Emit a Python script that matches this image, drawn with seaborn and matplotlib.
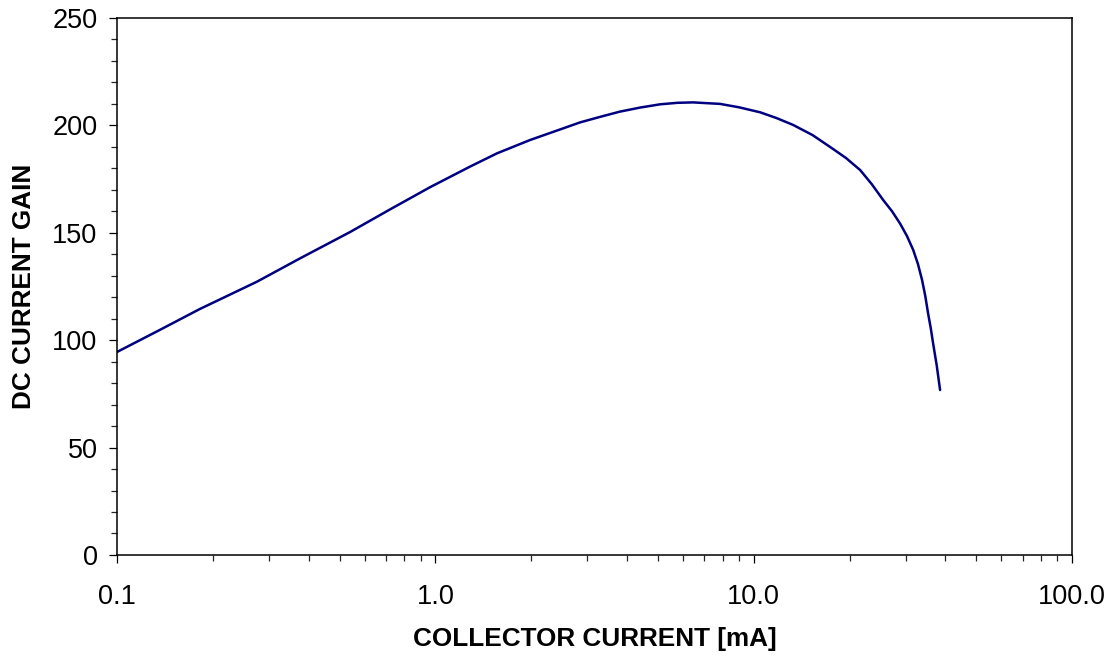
import matplotlib
matplotlib.use('Agg')
import matplotlib.pyplot as plt
import seaborn as sns
import pandas as pd
from matplotlib.ticker import FixedLocator, NullFormatter, LogLocator

# values
collector_ma = [0.1, 0.136, 0.182, 0.275, 0.376, 0.539, 0.721, 0.962, 1.285, 1.563,
                1.985, 2.52, 2.85, 3.30, 3.80, 4.40, 5.08, 5.75, 6.45, 7.84, 9.0,
                10.47, 11.8, 13.3, 15.3, 17.4, 19.5, 21.6, 23.5, 25.5, 27.2, 28.8,
                30.3, 31.7, 32.8, 33.8, 34.6, 35.3, 36.0, 36.6, 37.6, 38.5]
dc_gain = [94.5, 104.7, 114.5, 127.2, 138.1, 150.3, 160.9, 171.2, 180.8, 187.0,
           193.2, 198.6, 201.4, 204.0, 206.4, 208.3, 209.8, 210.5, 210.7, 210.0, 208.4,
           206.1, 203.4, 200.2, 195.5, 189.9, 184.8, 179.2, 172.6, 165.3, 160.0, 154.4,
           148.5, 142.0, 135.5, 128.0, 120.5, 112.5, 105.5, 98.6, 88.0, 76.8]
xtick_vals = [0.1, 1, 10, 100]
xtick_labels = ['0.1', '1.0', '10.0', '100.0']

df = pd.DataFrame({'ic': collector_ma, 'hfe': dc_gain})

sns.set_style('ticks')
plt.rcParams['font.family'] = ['Liberation Sans', 'DejaVu Sans']

fig = plt.figure(figsize=(11.1, 6.56), dpi=100)
ax = fig.add_axes([0.1054, 0.154, 0.8604, 0.8186])

sns.lineplot(data=df, x='ic', y='hfe', color='#000080', linewidth=1.8, ax=ax)

ax.set_xscale('log')
ax.set_xlim(0.1, 100)
ax.set_ylim(0, 250)
ax.set_xticks(xtick_vals)
ax.set_xticklabels(xtick_labels)
ax.xaxis.set_minor_locator(LogLocator(base=10, subs=range(2, 10)))
ax.xaxis.set_minor_formatter(NullFormatter())
ax.set_yticks(range(0, 251, 50))
ax.yaxis.set_minor_locator(FixedLocator(range(0, 251, 10)))

ax.tick_params(which='major', direction='out', length=6, width=0.9, labelsize=19.5,
               colors='black', labelcolor='black')
ax.tick_params(which='minor', direction='out', length=4.3, width=0.9)
ax.tick_params(axis='x', which='major', pad=15)
ax.tick_params(axis='y', which='major', pad=8)
for sp in ax.spines.values():
    sp.set_visible(True)
    sp.set_color('black')
    sp.set_linewidth(1.1)

ax.set_xlabel('COLLECTOR CURRENT [mA]', fontsize=18.8, fontweight='bold', labelpad=12, color='black')
ax.set_ylabel('DC CURRENT GAIN', fontsize=18.8, fontweight='bold', labelpad=12, color='black')

fig.savefig('out.png', dpi=100)
